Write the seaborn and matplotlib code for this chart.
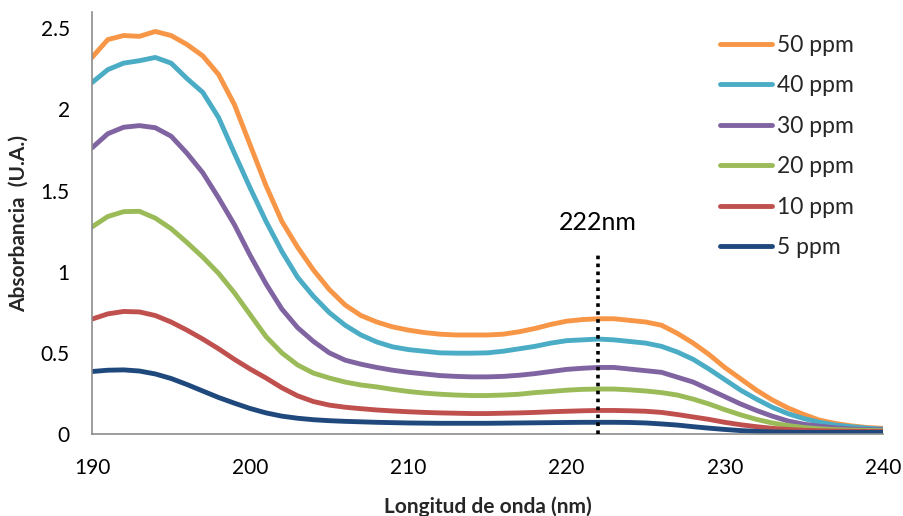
import numpy as np
import pandas as pd
import matplotlib
matplotlib.use("Agg")
import matplotlib.pyplot as plt
import seaborn as sns

# Wavelength grid (nm) and absorbance spectra for each concentration
wavelength = list(range(190, 241))

abs_50 = [2.32, 2.43, 2.455, 2.45, 2.48, 2.455, 2.40, 2.33, 2.215, 2.03,
          1.78, 1.53, 1.31, 1.15, 1.01, 0.89, 0.795, 0.73, 0.69, 0.66,
          0.64, 0.625, 0.615, 0.61, 0.61, 0.61, 0.615, 0.63, 0.65, 0.675,
          0.695, 0.705, 0.71, 0.71, 0.70, 0.69, 0.67, 0.62, 0.56, 0.49,
          0.41, 0.34, 0.27, 0.21, 0.16, 0.12, 0.085, 0.065, 0.05, 0.04,
          0.035]
abs_40 = [2.165, 2.245, 2.285, 2.30, 2.32, 2.285, 2.19, 2.105, 1.95, 1.73,
          1.515, 1.31, 1.125, 0.965, 0.848, 0.748, 0.67, 0.61, 0.567, 0.537,
          0.52, 0.51, 0.50, 0.498, 0.498, 0.50, 0.51, 0.525, 0.54, 0.56,
          0.575, 0.58, 0.585, 0.58, 0.57, 0.56, 0.54, 0.505, 0.46, 0.40,
          0.335, 0.27, 0.215, 0.165, 0.125, 0.095, 0.072, 0.055, 0.045, 0.036,
          0.03]
abs_30 = [1.763, 1.85, 1.89, 1.90, 1.887, 1.835, 1.73, 1.61, 1.455, 1.29,
          1.10, 0.925, 0.77, 0.655, 0.57, 0.50, 0.455, 0.43, 0.41, 0.393,
          0.38, 0.37, 0.36, 0.355, 0.352, 0.352, 0.355, 0.362, 0.372, 0.385,
          0.398, 0.405, 0.41, 0.41, 0.40, 0.39, 0.38, 0.35, 0.32, 0.275,
          0.23, 0.185, 0.145, 0.11, 0.08, 0.06, 0.048, 0.038, 0.031, 0.027,
          0.025]
abs_20 = [1.276, 1.34, 1.37, 1.372, 1.33, 1.265, 1.18, 1.09, 0.99, 0.87,
          0.735, 0.60, 0.50, 0.425, 0.375, 0.345, 0.32, 0.302, 0.29, 0.275,
          0.262, 0.252, 0.245, 0.24, 0.237, 0.237, 0.24, 0.245, 0.255, 0.262,
          0.27, 0.275, 0.277, 0.277, 0.272, 0.265, 0.255, 0.24, 0.215, 0.185,
          0.15, 0.118, 0.09, 0.068, 0.052, 0.04, 0.032, 0.027, 0.024, 0.022,
          0.02]
abs_10 = [0.708, 0.74, 0.755, 0.752, 0.73, 0.69, 0.64, 0.585, 0.525, 0.46,
          0.40, 0.345, 0.285, 0.235, 0.20, 0.178, 0.165, 0.156, 0.148, 0.142,
          0.137, 0.133, 0.13, 0.128, 0.126, 0.126, 0.128, 0.13, 0.133, 0.137,
          0.14, 0.143, 0.145, 0.145, 0.143, 0.14, 0.133, 0.12, 0.105, 0.09,
          0.072, 0.057, 0.045, 0.035, 0.028, 0.023, 0.02, 0.018, 0.017, 0.016,
          0.015]
abs_5 = [0.385, 0.393, 0.395, 0.388, 0.37, 0.342, 0.305, 0.265, 0.225, 0.19,
         0.157, 0.13, 0.11, 0.097, 0.088, 0.082, 0.078, 0.075, 0.072, 0.07,
         0.068, 0.067, 0.066, 0.066, 0.066, 0.066, 0.067, 0.068, 0.069, 0.07,
         0.071, 0.072, 0.072, 0.072, 0.071, 0.068, 0.062, 0.055, 0.045, 0.036,
         0.028, 0.021, 0.016, 0.013, 0.011, 0.01, 0.01, 0.01, 0.01, 0.01,
         0.01]

series_labels = ["50 ppm", "40 ppm", "30 ppm", "20 ppm", "10 ppm", "5 ppm"]
series_values = [abs_50, abs_40, abs_30, abs_20, abs_10, abs_5]
series_colors = ["#F79646", "#4BACC6", "#8064A2", "#9BBB59", "#C0504D", "#1F497D"]

x_ticks = [190, 200, 210, 220, 230, 240]
y_ticks = [0, 0.5, 1, 1.5, 2, 2.5]
y_tick_labels = ["0", "0.5", "1", "1.5", "2", "2.5"]

peak_nm = 222
peak_line_top = 1.1
peak_label = "222nm"

# Long-form table for seaborn
frames = []
for lab, vals in zip(series_labels, series_values):
    frames.append(pd.DataFrame({"nm": wavelength, "abs": vals, "conc": lab}))
df = pd.concat(frames, ignore_index=True)

sns.set_theme(style="white")
plt.rcParams["font.family"] = ["Lato", "DejaVu Sans"]

fig = plt.figure(figsize=(9.04, 5.16), dpi=100)
ax = fig.add_axes([92 / 904, 82 / 516, 791 / 904, 422 / 516])

sns.lineplot(data=df, x="nm", y="abs", hue="conc", hue_order=series_labels,
             palette=dict(zip(series_labels, series_colors)),
             linewidth=3.5, sort=False, ax=ax, legend=True)
for ln in ax.lines:
    ln.set_solid_capstyle("round")
    ln.set_solid_joinstyle("round")

# Vertical dotted marker at the absorption band
ax.plot([peak_nm, peak_nm], [0, peak_line_top], color="black", lw=2.6,
        linestyle=(0, (1, 1.2)), dash_capstyle="butt", zorder=5)
ax.text(peak_nm, 1.305, peak_label, ha="center", va="center", fontsize=18,
        color="black")

ax.set_xlim(190, 240)
ax.set_ylim(0, 2.6)
ax.set_xticks(x_ticks)
ax.set_yticks(y_ticks)
ax.set_yticklabels(y_tick_labels)
ax.tick_params(axis="both", length=0, labelsize=15, colors="black")
ax.tick_params(axis="x", pad=17)
ax.tick_params(axis="y", pad=16)

for side in ["top", "right"]:
    ax.spines[side].set_visible(False)
for side in ["left", "bottom"]:
    ax.spines[side].set_color("#8C8C8C")
    ax.spines[side].set_linewidth(1.2)

ax.set_xlabel("Longitud de onda (nm)", fontsize=15, fontweight="bold")
ax.set_ylabel("Absorbancia  (U.A.)", fontsize=15, fontweight="bold")
ax.xaxis.set_label_coords(0.5, -0.173)
ax.xaxis.label.set_va("center")
ax.yaxis.set_label_coords(-0.093, 0.5)
ax.yaxis.label.set_va("center")

leg = ax.legend(loc="upper left", bbox_to_anchor=(0.794, 0.946),
                frameon=False, fontsize=16.5, handlelength=2.25,
                handletextpad=0.22, labelspacing=0.85, borderpad=0,
                borderaxespad=0)
for h in leg.get_lines():
    h.set_linewidth(3.5)
    h.set_solid_capstyle("round")

fig.savefig("out.png", dpi=100, facecolor="white")
